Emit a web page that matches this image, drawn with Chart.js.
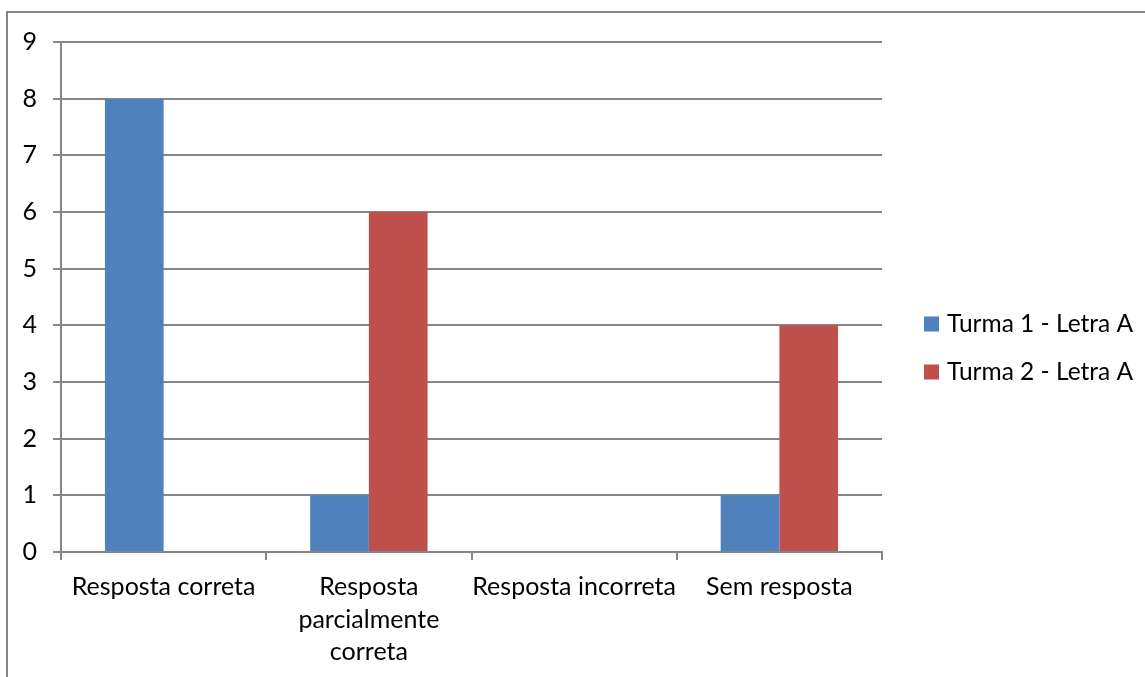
<!DOCTYPE html>
<html>
<head>
<meta charset="utf-8">
<style>
  html, body { margin: 0; padding: 0; background: #fff; }
  #wrap { position: relative; width: 1145px; height: 677px; }
</style>
<script src="https://cdn.jsdelivr.net/npm/chart.js@4/dist/chart.umd.min.js"></script>
</head>
<body>
<div id="wrap"><canvas id="c" width="1145" height="677"></canvas></div>
<script>
const categories = ['Resposta correta', ['Resposta', 'parcialmente', 'correta'], 'Resposta incorreta', 'Sem resposta'];
const seriesNames = ['Turma 1 - Letra A', 'Turma 2 - Letra A'];
const turma1 = [8, 1, 0, 1];
const turma2 = [0, 6, 0, 4];
const yTicks = [0, 1, 2, 3, 4, 5, 6, 7, 8, 9];

const FONT = 'Lato, "Open Sans", sans-serif';
const LINE = '#868686';

// Outer frame of the chart object (only left and top edges are visible)
const framePlugin = {
  id: 'frame',
  beforeDraw(chart) {
    const ctx = chart.ctx;
    ctx.save();
    ctx.fillStyle = '#fff';
    ctx.fillRect(0, 0, chart.width, chart.height);
    ctx.strokeStyle = LINE;
    ctx.lineWidth = 2;
    ctx.beginPath();
    ctx.moveTo(7, chart.height);
    ctx.lineTo(7, 12);
    ctx.lineTo(chart.width, 12);
    ctx.stroke();
    ctx.restore();
  }
};

// Legend on the right, built from the datasets
const sideLegend = {
  id: 'sideLegend',
  afterDraw(chart) {
    const ctx = chart.ctx;
    const x0 = chart.chartArea.right + 42;
    const yStart = 324;
    const step = 48;
    ctx.save();
    ctx.font = '24.5px ' + FONT;
    ctx.textBaseline = 'middle';
    ctx.textAlign = 'left';
    chart.data.datasets.forEach((ds, i) => {
      const y = yStart + i * step;
      ctx.fillStyle = ds.backgroundColor;
      ctx.fillRect(x0, y - 7.5, 15, 15);
      ctx.fillStyle = '#000';
      ctx.fillText(ds.label, x0 + 23, y);
    });
    ctx.restore();
  }
};

new Chart(document.getElementById('c'), {
  type: 'bar',
  data: {
    labels: categories,
    datasets: [
      { label: seriesNames[0], data: turma1, backgroundColor: '#4F81BD', borderWidth: 0 },
      { label: seriesNames[1], data: turma2, backgroundColor: '#C0504D', borderWidth: 0 }
    ]
  },
  options: {
    responsive: false,
    animation: false,
    layout: { padding: { left: 0, top: 42, right: 263, bottom: 0 } },
    plugins: { legend: { display: false }, tooltip: { enabled: false } },
    datasets: { bar: { barPercentage: 1, categoryPercentage: 0.572 } },
    scales: {
      x: {
        offset: true,
        grid: { offset: true, drawOnChartArea: false, drawTicks: true, tickLength: 8, color: LINE, lineWidth: 2 },
        border: { display: true, color: LINE, width: 2 },
        ticks: {
          color: '#000', padding: 11, maxRotation: 0, autoSkip: false,
          font: { family: FONT, size: 25, lineHeight: 32.5 / 25 }
        },
        afterFit(scale) { scale.height = 125; }
      },
      y: {
        min: 0, max: 9,
        afterBuildTicks(scale) { scale.ticks = yTicks.map(v => ({ value: v })); },
        grid: { color: LINE, lineWidth: 2, tickLength: 8, drawTicks: true },
        border: { display: true, color: LINE, width: 2 },
        ticks: { color: '#000', padding: 16, font: { family: FONT, size: 25 } },
        afterFit(scale) { scale.width = 61; }
      }
    }
  },
  plugins: [framePlugin, sideLegend]
});
</script>
</body>
</html>
